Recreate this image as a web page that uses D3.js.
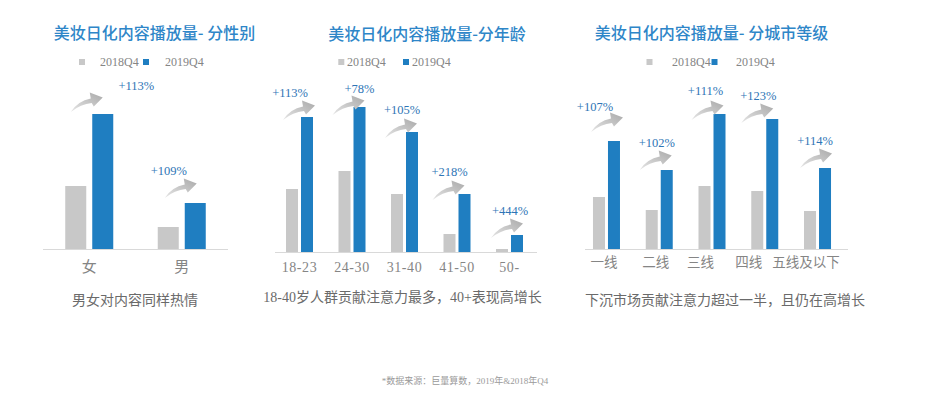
<!DOCTYPE html>
<html><head><meta charset="utf-8">
<script src="https://cdn.jsdelivr.net/npm/d3@7/dist/d3.min.js"></script>
<style>
html,body{margin:0;padding:0;background:#fff;}
svg{display:block;}
</style>
</head><body>
<svg id="chart" width="941" height="398"></svg>
<script>
// ---- data ----
const seriesNames = ["2018Q4", "2019Q4"];

const genderTitle = "美妆日化内容播放量- 分性别";
const genderCats = ["女", "男"];
const gender2018 = [63, 22];
const gender2019 = [135, 46];
const genderGrowth = ["+113%", "+109%"];
const genderCaption = "男女对内容同样热情";

const ageTitle = "美妆日化内容播放量-分年龄";
const ageCats = ["18-23", "24-30", "31-40", "41-50", "50-"];
const age2018 = [63, 81, 58, 18, 3];
const age2019 = [135, 145, 120, 58, 17];
const ageGrowth = ["+113%", "+78%", "+105%", "+218%", "+444%"];
const ageCaption = "18-40岁人群贡献注意力最多，40+表现高增长";

const cityTitle = "美妆日化内容播放量- 分城市等级";
const cityCats = ["一线", "二线", "三线", "四线", "五线及以下"];
const city2018 = [52, 39, 63, 58, 38];
const city2019 = [108, 79, 135, 130, 81];
const cityGrowth = ["+107%", "+102%", "+111%", "+123%", "+114%"];
const cityCaption = "下沉市场贡献注意力超过一半，且仍在高增长";

const footnote = "*数据来源：巨量算数，2019年&2018年Q4";

// ---- layout / style ----
const C = {
  gray: "#C8C8C8", blue: "#1F7EC1", title: "#2E86C8", note: "#2E75B6",
  tick: "#858585", caption: "#6A6A6A", axis: "#D9D9D9"
};
const serif = "'Liberation Serif','DejaVu Serif','Noto Sans CJK SC',serif";
const cjk = "'Noto Sans CJK SC','Noto Sans',sans-serif";

const panels = [
  { title: genderTitle, cats: genderCats, s0: gender2018, s1: gender2019, growth: genderGrowth, caption: genderCaption,
    band: [43, 228], axis: [43, 228], base: 249, bw: 21, gap: 6,
    titleX: 154.5, titleY: 33, leg: { sq: [82, 146], tx: [100, 165], y: 62 },
    tickY: 267, tickSize: 15, tickDx: [0, 0], capX: 135, capY: 300,
    noteOff: [[33.5, -28], [-26.5, -32]], arrowOff: [[0, -17], [1.5, -20]] },
  { title: ageTitle, cats: ageCats, s0: age2018, s1: age2019, growth: ageGrowth, caption: ageCaption,
    band: [273.25, 535.75], axis: [275, 537], base: 252, bw: 12, gap: 3,
    titleX: 427, titleY: 34, leg: { sq: [341.3, 406], tx: [347, 412], y: 62 },
    tickY: 267, tickSize: 14, tickDx: [0, 0, 0, 0, 0], capX: 402.5, capY: 297,
    noteOff: [[-17, -24], [0, -18], [-10, -22], [-15, -22], [-7, -24]],
    arrowOff: [[8, -12], [5, -7], [5, -9], [0, -9], [6, -12]] },
  { title: cityTitle, cats: cityCats, s0: city2018, s1: city2019, growth: cityGrowth, caption: cityCaption,
    band: [580.1, 843.9], axis: [585, 848], base: 249, bw: 12, gap: 3,
    titleX: 711.5, titleY: 33, leg: { sq: [649.5, 714.5], tx: [672, 736], y: 62 },
    tickY: 262, tickSize: 13.5, tickDx: [-2.5, -3.5, -11.5, -16, -11.5], capX: 725, capY: 300,
    noteOff: [[-19, -34], [-10, -27], [-14, -23], [-14, -23], [-10, -27]],
    arrowOff: [[9, -24], [5, -15], [4, -9], [1, -11], [7, -15]] }
];

const svg = d3.select("#chart");
const defs = svg.append("defs");
const grad = defs.append("linearGradient").attr("id", "arrowGrad")
  .attr("x1", "0%").attr("y1", "100%").attr("x2", "100%").attr("y2", "0%");
grad.append("stop").attr("offset", "0%").attr("stop-color", "#E6E6E6");
grad.append("stop").attr("offset", "100%").attr("stop-color", "#A9A9A9");

// curved arrow, tip at (0,0)
const arrowPath = "M-32,15 Q-25,4 -12,1.5 L-13,-4.5 L0,0.5 L-9,9.5 L-11,6 Q-22,7 -32,15 Z";

panels.forEach(p => {
  const g = svg.append("g");
  const x = d3.scaleBand().domain(p.cats).range(p.band).paddingInner(0).paddingOuter(0);
  const groupW = p.bw * 2 + p.gap;
  const xs = d3.scaleBand().domain(seriesNames).range([0, groupW])
    .paddingInner(2 - groupW / (p.bw + p.gap)).paddingOuter(0);
  const y = d3.scaleLinear().domain([0, 100]).range([p.base, p.base - 100]);

  // title
  g.append("text").attr("x", p.titleX).attr("y", p.titleY).attr("dy", "0.35em")
    .attr("text-anchor", "middle").attr("font-family", cjk).attr("font-size", 16)
    .attr("font-weight", 500).attr("fill", C.title).text(p.title);

  // legend
  seriesNames.forEach((s, i) => {
    g.append("rect").attr("x", p.leg.sq[i] - 3).attr("y", p.leg.y - 3).attr("width", 6).attr("height", 6)
      .attr("fill", i === 0 ? C.gray : C.blue);
    g.append("text").attr("x", p.leg.tx[i]).attr("y", p.leg.y).attr("dy", "0.35em")
      .attr("font-family", serif).attr("font-size", 12).attr("fill", C.tick).text(s);
  });

  // axis line
  g.append("line").attr("x1", p.axis[0]).attr("x2", p.axis[1]).attr("y1", p.base + 0.5).attr("y2", p.base + 0.5)
    .attr("stroke", C.axis).attr("stroke-width", 1);

  const rows = p.cats.map((c, i) => ({ c, i, v: [p.s0[i], p.s1[i]] }));
  const grp = g.selectAll(".grp").data(rows).join("g")
    .attr("transform", d => `translate(${x(d.c) + x.bandwidth() / 2 - groupW / 2},0)`);
  grp.selectAll("rect").data(d => seriesNames.map((s, k) => ({ s, v: d.v[k], k }))).join("rect")
    .attr("x", d => xs(d.s)).attr("width", xs.bandwidth())
    .attr("y", d => y(d.v)).attr("height", d => p.base - y(d.v))
    .attr("fill", d => d.k === 0 ? C.gray : C.blue);

  // arrows and growth labels
  rows.forEach(d => {
    const bx = x(d.c) + x.bandwidth() / 2 - groupW / 2 + xs(seriesNames[1]) + xs.bandwidth() / 2;
    const by = y(d.v[1]);
    const ao = p.arrowOff[d.i], no = p.noteOff[d.i];
    g.append("path").attr("d", arrowPath).attr("fill", "url(#arrowGrad)")
      .attr("transform", `translate(${bx + ao[0]},${by + ao[1]})`);
    g.append("text").attr("x", bx + no[0]).attr("y", by + no[1]).attr("dy", "0.35em")
      .attr("text-anchor", "middle").attr("font-family", serif).attr("font-size", 12.5)
      .attr("fill", C.note).text(p.growth[d.i]);
  });

  // tick labels
  rows.forEach(d => {
    g.append("text").attr("x", x(d.c) + x.bandwidth() / 2 + p.tickDx[d.i]).attr("y", p.tickY).attr("dy", "0.35em")
      .attr("text-anchor", "middle").attr("font-family", serif).attr("font-size", p.tickSize)
      .attr("letter-spacing", /^[0-9]/.test(d.c) ? 0.6 : 0)
      .attr("fill", C.tick).text(d.c);
  });

  // caption
  g.append("text").attr("x", p.capX).attr("y", p.capY).attr("dy", "0.35em")
    .attr("text-anchor", "middle").attr("font-family", serif).attr("font-size", 14)
    .attr("fill", C.caption).text(p.caption);
});

svg.append("text").attr("x", 465).attr("y", 381).attr("dy", "0.35em").attr("text-anchor", "middle")
  .attr("font-family", serif).attr("font-size", 9).attr("fill", "#9A9A9A").text(footnote);
</script>
</body></html>
